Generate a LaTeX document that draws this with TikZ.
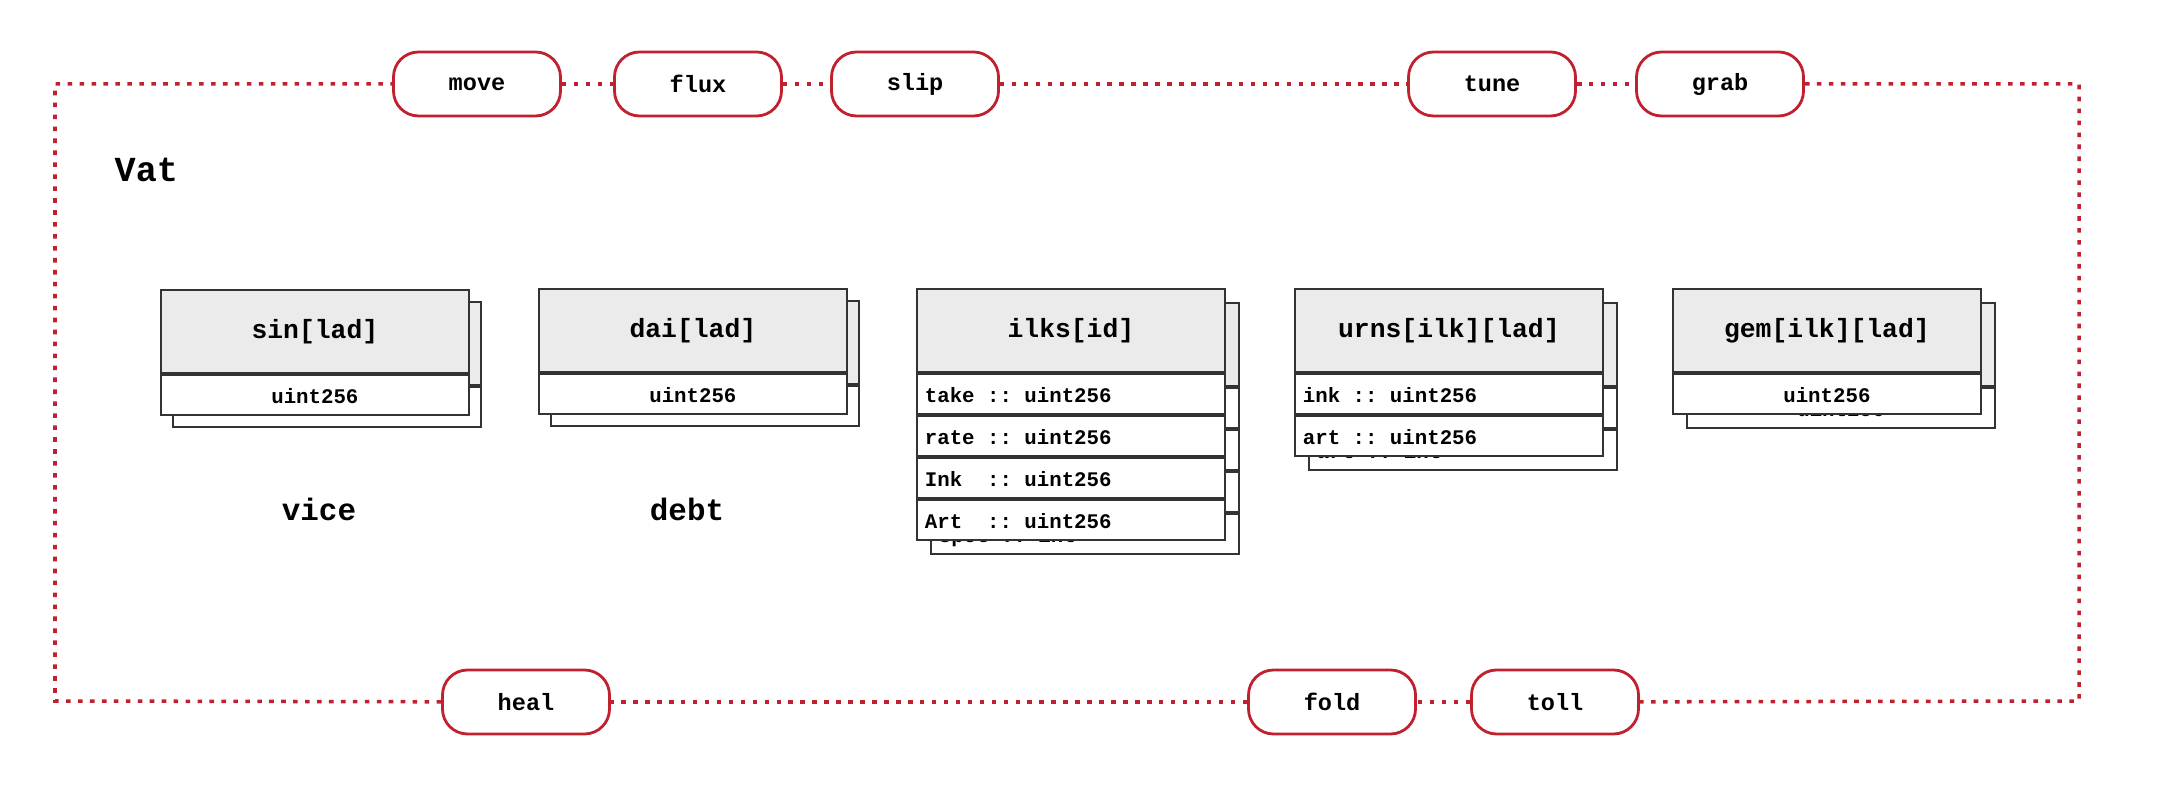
\documentclass[tikz,border=0pt]{standalone}
\usepackage{fontspec}
\newfontfamily\vatmono{Liberation Mono}
\newcommand\vatfont[1]{\vatmono\bfseries\fontsize{#1}{#1}\selectfont}
\newcommand\gap{\hphantom{x}}
\usepackage{tikz}
\usetikzlibrary{positioning}
\definecolor{vatred}{HTML}{C1202F}
\definecolor{headgray}{HTML}{EBEBEB}
\definecolor{boxline}{HTML}{333333}

\tikzset{
  pill/.style={draw=vatred, line width=0.8pt, rounded corners=0.25cm, fill=white,
    minimum width=1.67cm, minimum height=0.64cm, inner sep=0pt,
    font=\vatfont{6.7}},
  border/.style={vatred, line width=1pt, dash pattern=on 1.3pt off 2.1pt},
  head/.style={draw=boxline, line width=0.5pt, fill=headgray, anchor=north west,
    minimum width=3.08cm, minimum height=0.83cm, inner sep=0pt,
    font=\vatfont{7.5}},
  field/.style={draw=boxline, line width=0.5pt, fill=white, minimum width=3.08cm,
    minimum height=0.403cm, inner sep=0pt, text height=0.62em, text depth=0.12em,
    font=\vatfont{5.9}},
  lfield/.style={field, text width=2.92cm, inner xsep=0.08cm, align=left},
  title/.style={inner sep=0pt, font=\vatfont{10}},
  scalar/.style={inner sep=0pt, font=\vatfont{8.8}}
}

\begin{document}
\begin{tikzpicture}[x=1cm, y=-1cm]
\useasboundingbox (0,0) rectangle (21.6,7.98);

% Khung Vat
\coordinate (tl) at (0.55,0.84);
\coordinate (tr) at (20.79,0.84);
\coordinate (br) at (20.79,7.01);
\coordinate (bl) at (0.55,7.01);

\node[pill] (move) at (4.77,0.84) {move};
\node[pill] (flux) at (6.98,0.84) {flux};
\node[pill] (slip) at (9.15,0.84) {slip};
\node[pill] (tune) at (14.92,0.84) {tune};
\node[pill] (grab) at (17.20,0.84) {grab};
\node[pill] (heal) at (5.26,7.02) {heal};
\node[pill] (fold) at (13.32,7.02) {fold};
\node[pill] (toll) at (15.55,7.02) {toll};

\draw[border] (heal) -- (bl) -- (tl) -- (move);
\draw[border] (move) -- (flux);
\draw[border] (flux) -- (slip);
\draw[border] (slip) -- (tune);
\draw[border] (tune) -- (grab);
\draw[border] (grab) -- (tr) -- (br) -- (toll);
\draw[border] (toll) -- (fold);
\draw[border] (fold) -- (heal);

\node[title, anchor=west] (vat) at (1.14,1.70) {Vat};

% sin[lad]
\node[head] (sinB) at (1.72,3.01) {};
\node[field, below=0cm of sinB] (sinB1) {};
\node[head] (sin) at (1.60,2.89) {sin[lad]};
\node[field, below=0cm of sin] (sin1) {uint256};
\node[scalar] (vice) at (3.19,5.09) {vice};

% dai[lad]
\node[head] (daiB) at (5.50,3.00) {};
\node[field, below=0cm of daiB] (daiB1) {};
\node[head] (dai) at (5.38,2.88) {dai[lad]};
\node[field, below=0cm of dai] (dai1) {uint256};
\node[scalar] (debt) at (6.87,5.09) {debt};

% ilks[id]
\node[head] (ilksB) at (9.30,3.02) {};
\node[field, below=0cm of ilksB] (ilksB1) {};
\node[field, below=0cm of ilksB1] (ilksB2) {};
\node[field, below=0cm of ilksB2] (ilksB3) {};
\node[lfield, below=0cm of ilksB3] (ilksB4) {spot\gap::\gap int};
\node[head] (ilks) at (9.16,2.88) {ilks[id]};
\node[lfield, below=0cm of ilks] (ilks1) {take\gap::\gap uint256};
\node[lfield, below=0cm of ilks1] (ilks2) {rate\gap::\gap uint256};
\node[lfield, below=0cm of ilks2] (ilks3) {Ink\gap\gap::\gap uint256};
\node[lfield, below=0cm of ilks3] (ilks4) {Art\gap\gap::\gap uint256};

% urns[ilk][lad]
\node[head] (urnsB) at (13.08,3.02) {};
\node[field, below=0cm of urnsB] (urnsB1) {};
\node[lfield, below=0cm of urnsB1] (urnsB2) {art\gap::\gap int};
\node[head] (urns) at (12.94,2.88) {urns[ilk][lad]};
\node[lfield, below=0cm of urns] (urns1) {ink\gap::\gap uint256};
\node[lfield, below=0cm of urns1] (urns2) {art\gap::\gap uint256};

% gem[ilk][lad]
\node[head] (gemB) at (16.86,3.02) {};
\node[field, below=0cm of gemB] (gemB1) {uint256};
\node[head] (gem) at (16.72,2.88) {gem[ilk][lad]};
\node[field, below=0cm of gem] (gem1) {uint256};
\end{tikzpicture}
\end{document}
